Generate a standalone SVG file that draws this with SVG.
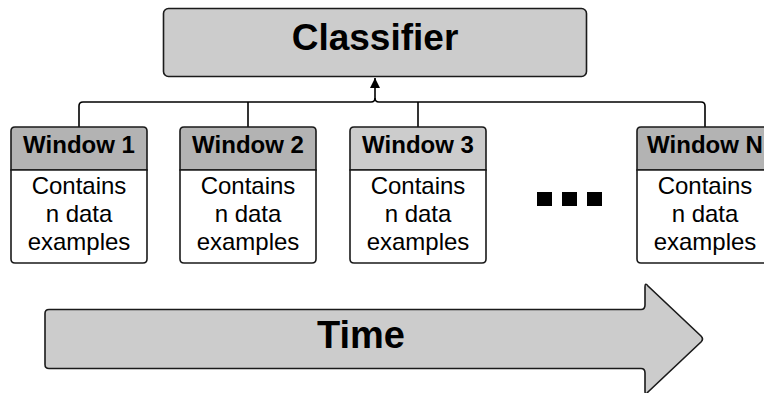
<svg xmlns="http://www.w3.org/2000/svg" width="764" height="393" viewBox="0 0 764 393">
<defs>
<style>
.box{stroke:#1a1a1a;stroke-width:1.6;}
.hdr{font-family:"Liberation Sans",Arial,sans-serif;font-weight:bold;font-size:24px;fill:#000;text-anchor:middle;}
.body{font-family:"Liberation Sans",Arial,sans-serif;font-size:24px;fill:#000;text-anchor:middle;}
.big{font-family:"Liberation Sans",Arial,sans-serif;font-weight:bold;fill:#000;text-anchor:middle;}
.conn{fill:none;stroke:#000;stroke-width:1.6;}
</style>
<marker id="ah" viewBox="0 0 10 10" refX="10" refY="5" markerWidth="10" markerHeight="10" markerUnits="userSpaceOnUse" orient="auto">
<path d="M0,0 L10,5 L0,10 z" fill="#000"/>
</marker>
</defs>
<rect width="764" height="393" fill="#fff"/>

<g id="connectors">
<path class="conn" d="M79,127 V106 Q79,102 83,102 H371 Q375,102 375,98 V78" marker-end="url(#ah)"/>
<path class="conn" d="M705,127 V106 Q705,102 701,102 H379 Q375,102 375,98"/>
<path class="conn" d="M248,127 V102"/>
<path class="conn" d="M418,127 V102"/>
</g>

<g id="classifier">
<rect class="box" x="163.5" y="8.5" width="423" height="68" rx="5" fill="#cccccc"/>
<text class="big" x="375" y="50" font-size="37">Classifier</text>
</g>

<g id="window1">
<path class="box" d="M11,170 V131 Q11,127 15,127 H143 Q147,127 147,131 V170 Z" fill="#b3b3b3"/>
<path class="box" d="M11,170 H147 V259 Q147,263 143,263 H15 Q11,263 11,259 Z" fill="#fff"/>
<text class="hdr" x="79" y="153">Window 1</text>
<text class="body" x="79" y="194">Contains</text>
<text class="body" x="79" y="222">n data</text>
<text class="body" x="79" y="250">examples</text>
</g>

<g id="window2">
<path class="box" d="M180,170 V131 Q180,127 184,127 H312 Q316,127 316,131 V170 Z" fill="#b3b3b3"/>
<path class="box" d="M180,170 H316 V259 Q316,263 312,263 H184 Q180,263 180,259 Z" fill="#fff"/>
<text class="hdr" x="248" y="153">Window 2</text>
<text class="body" x="248" y="194">Contains</text>
<text class="body" x="248" y="222">n data</text>
<text class="body" x="248" y="250">examples</text>
</g>

<g id="window3">
<path class="box" d="M350,170 V131 Q350,127 354,127 H482 Q486,127 486,131 V170 Z" fill="#cccccc"/>
<path class="box" d="M350,170 H486 V259 Q486,263 482,263 H354 Q350,263 350,259 Z" fill="#fff"/>
<text class="hdr" x="418" y="153">Window 3</text>
<text class="body" x="418" y="194">Contains</text>
<text class="body" x="418" y="222">n data</text>
<text class="body" x="418" y="250">examples</text>
</g>

<g id="ellipsis">
<rect x="537" y="192" width="15" height="14" fill="#000"/>
<rect x="562" y="192" width="15" height="14" fill="#000"/>
<rect x="587" y="192" width="15" height="14" fill="#000"/>
</g>

<g id="windowN">
<path class="box" d="M637,170 V131 Q637,127 641,127 H769 Q773,127 773,131 V170 Z" fill="#b3b3b3"/>
<path class="box" d="M637,170 H773 V259 Q773,263 769,263 H641 Q637,263 637,259 Z" fill="#fff"/>
<text class="hdr" x="705" y="153">Window N</text>
<text class="body" x="705" y="194">Contains</text>
<text class="body" x="705" y="222">n data</text>
<text class="body" x="705" y="250">examples</text>
</g>

<g id="time">
<path class="box" d="M49,309.5 H641 Q645,309.5 645,305 V287 Q645,282 648,286 L701,336 Q704,339 701,342 L648,392 Q645,396 645,391 V373 Q645,368.5 641,368.5 H49 Q45,368.5 45,364.5 V313.5 Q45,309.5 49,309.5 Z" fill="#cccccc"/>
<text class="big" x="361" y="348" font-size="38">Time</text>
</g>
</svg>
